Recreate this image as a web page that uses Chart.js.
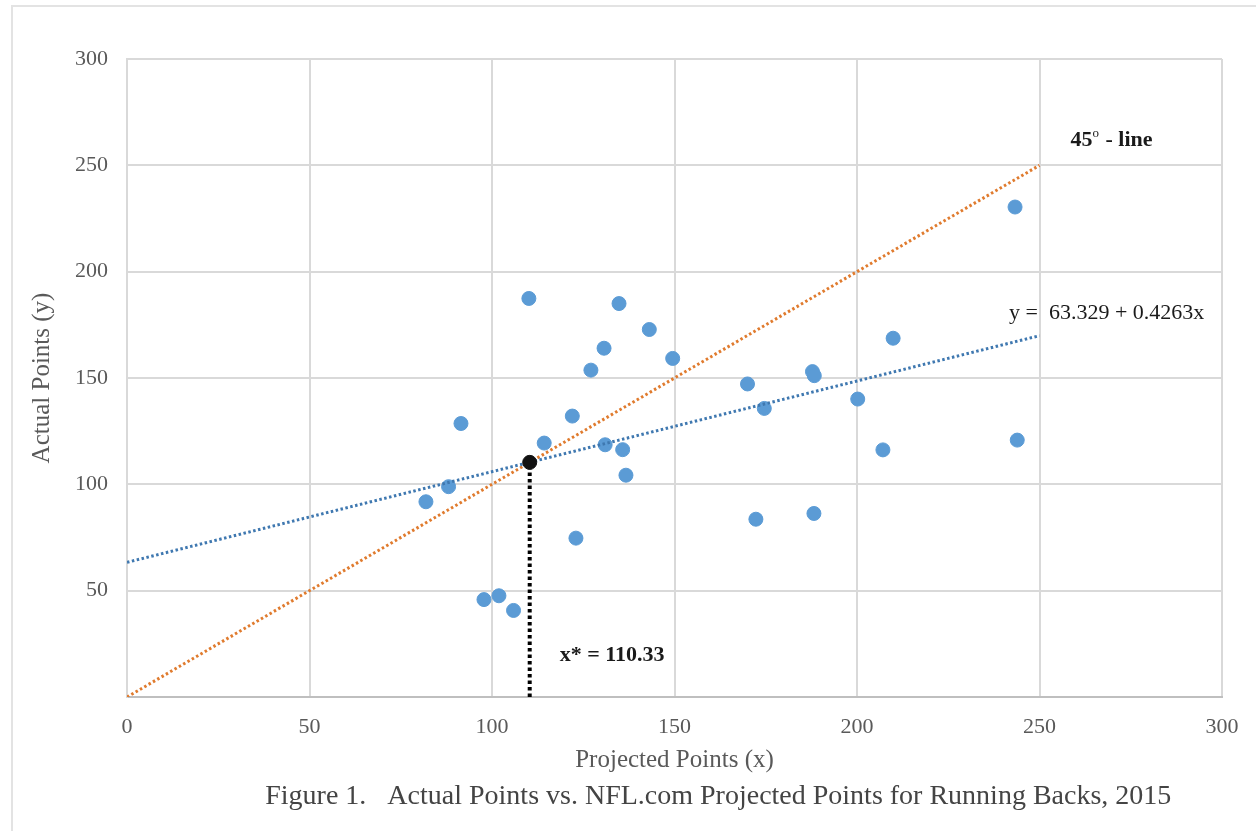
<!DOCTYPE html>
<html>
<head>
<meta charset="utf-8">
<script src="https://cdn.jsdelivr.net/npm/chart.js@4.4.1/dist/chart.umd.min.js"></script>
<style>
  html, body { margin: 0; padding: 0; background: #fff; }
  #frame {
    position: absolute; left: 11px; top: 5px; width: 1245px; height: 826px;
    border-left: 2px solid #e3e3e3; border-top: 2px solid #e3e3e3;
  }
  #wrap { position: absolute; left: 0; top: 0; width: 1256px; height: 831px; }
</style>
</head>
<body>
<div id="frame"></div>
<div id="wrap"><canvas id="grafico"></canvas></div>
<script>
// Pontos dos running backs (projetado x real)
const projetados = [81.9, 88.1, 91.5, 97.8, 101.9, 105.9, 110.1, 114.3, 122.0, 123.0,
                    127.1, 130.7, 131.0, 134.8, 135.8, 136.7, 143.1, 149.5,
                    170.0, 172.3, 174.6, 187.8, 188.3, 188.2, 200.2, 207.1, 209.9, 243.3, 243.9];
const reais = [91.8, 98.9, 128.6, 45.8, 47.6, 40.7, 187.4, 119.4, 132.1, 74.7,
               153.7, 164.0, 118.6, 185.0, 116.3, 104.3, 172.8, 159.2,
               147.2, 83.6, 135.7, 153.0, 151.1, 86.3, 140.1, 116.2, 168.7, 230.4, 120.8];

// Linha de 45 graus
const linha45X = [0, 250];
const linha45Y = [0, 250];

// Linha de tendência y = 63.329 + 0.4263x
const tendenciaX = [0, 250];
const tendenciaY = [63.329, 169.9];

// Ponto de interseção x* = 110.33
const xEstrela = [110.33];
const yEstrela = [110.33];
const verticalX = [110.33, 110.33];
const verticalY = [0, 110.33];

const ticksEixo = [0, 50, 100, 150, 200, 250, 300];

const legenda = 'Figure 1.   Actual Points vs. NFL.com Projected Points for Running Backs, 2015';

const serif = "'Liberation Serif', 'DejaVu Serif', serif";

function pares(xs, ys) {
    return xs.map((x, i) => ({ x: x, y: ys[i] }));
}

// Plugin para os textos dentro do gráfico e a legenda da figura
const textosPlugin = {
    id: 'textos',
    afterDatasetsDraw(chart) {
        const { ctx, scales: { x, y } } = chart;
        ctx.save();
        ctx.fillStyle = '#1a1a1a';
        ctx.textBaseline = 'middle';

        // 45º - line
        ctx.font = "bold 22px " + serif;
        const px = x.getPixelForValue(258.5);
        const py = y.getPixelForValue(262);
        ctx.textAlign = 'left';
        ctx.fillText('45', px, py);
        const w45 = ctx.measureText('45').width;
        ctx.font = "13px " + serif;
        ctx.fillText('o', px + w45, py - 6);
        const wo = ctx.measureText('o').width;
        ctx.font = "bold 22px " + serif;
        ctx.fillText(' - line', px + w45 + wo + 1, py);

        // equação
        ctx.font = "22px " + serif;
        ctx.textAlign = 'center';
        ctx.fillText('y =  63.329 + 0.4263x', x.getPixelForValue(268.4), y.getPixelForValue(180.5));

        // x*
        ctx.font = "bold 22px " + serif;
        ctx.fillText('x* = 110.33', x.getPixelForValue(132.9), y.getPixelForValue(19.7));

        // legenda da figura (abaixo do eixo)
        ctx.font = "28px " + serif;
        ctx.fillStyle = '#444';
        ctx.fillText(legenda, x.getPixelForValue(162), chart.height - 34);
        ctx.restore();
    }
};

new Chart(document.getElementById('grafico'), {
    type: 'scatter',
    data: {
        datasets: [
            {
                label: '45',
                data: pares(linha45X, linha45Y),
                showLine: true,
                borderColor: '#e07b2e',
                borderWidth: 3,
                borderDash: [2.5, 2.5],
                pointRadius: 0,
                order: 3
            },
            {
                label: 'tendencia',
                data: pares(tendenciaX, tendenciaY),
                showLine: true,
                borderColor: '#3f78b0',
                borderWidth: 3,
                borderDash: [2.5, 2.5],
                pointRadius: 0,
                order: 2
            },
            {
                label: 'vertical',
                data: pares(verticalX, verticalY),
                showLine: true,
                borderColor: '#000',
                borderWidth: 4,
                borderDash: [3.5, 3],
                pointRadius: 0,
                order: 1
            },
            {
                label: 'RBs',
                data: pares(projetados, reais),
                backgroundColor: '#5b9bd5',
                borderColor: '#5b9bd5',
                pointRadius: 7,
                order: 4
            },
            {
                label: 'x*',
                data: pares(xEstrela, yEstrela),
                backgroundColor: '#111',
                borderColor: '#111',
                pointRadius: 7,
                order: 0
            }
        ]
    },
    options: {
        responsive: true,
        maintainAspectRatio: false,
        animation: false,
        layout: { padding: { left: 20, top: 59, right: 34, bottom: 54.8 } },
        plugins: {
            legend: { display: false },
            tooltip: { enabled: false }
        },
        scales: {
            x: {
                type: 'linear',
                min: 0,
                max: 300,
                afterBuildTicks: (s) => { s.ticks = ticksEixo.map(v => ({ value: v })); },
                afterFit: (s) => { s.height = 79.2; },
                grid: { color: '#d9d9d9', lineWidth: 2, drawTicks: false },
                border: { color: '#bfbfbf', width: 2 },
                ticks: { color: '#595959', font: { family: serif, size: 22 }, padding: 17 },
                title: {
                    display: true,
                    text: 'Projected Points (x)',
                    color: '#595959',
                    font: { family: serif, size: 25 },
                    padding: { top: 0, bottom: 1 }
                }
            },
            y: {
                type: 'linear',
                min: 0,
                max: 300,
                afterBuildTicks: (s) => { s.ticks = ticksEixo.filter(v => v > 0).map(v => ({ value: v })); },
                afterFit: (s) => { s.width = 107; },
                grid: { color: '#d9d9d9', lineWidth: 2, drawTicks: false },
                border: { color: '#d9d9d9', width: 2 },
                ticks: { color: '#595959', font: { family: serif, size: 22 }, padding: 19 },
                title: {
                    display: true,
                    text: 'Actual Points (y)',
                    color: '#595959',
                    font: { family: serif, size: 25 },
                    padding: { top: 7, bottom: 0 }
                }
            }
        }
    },
    plugins: [textosPlugin]
});
</script>
</body>
</html>
